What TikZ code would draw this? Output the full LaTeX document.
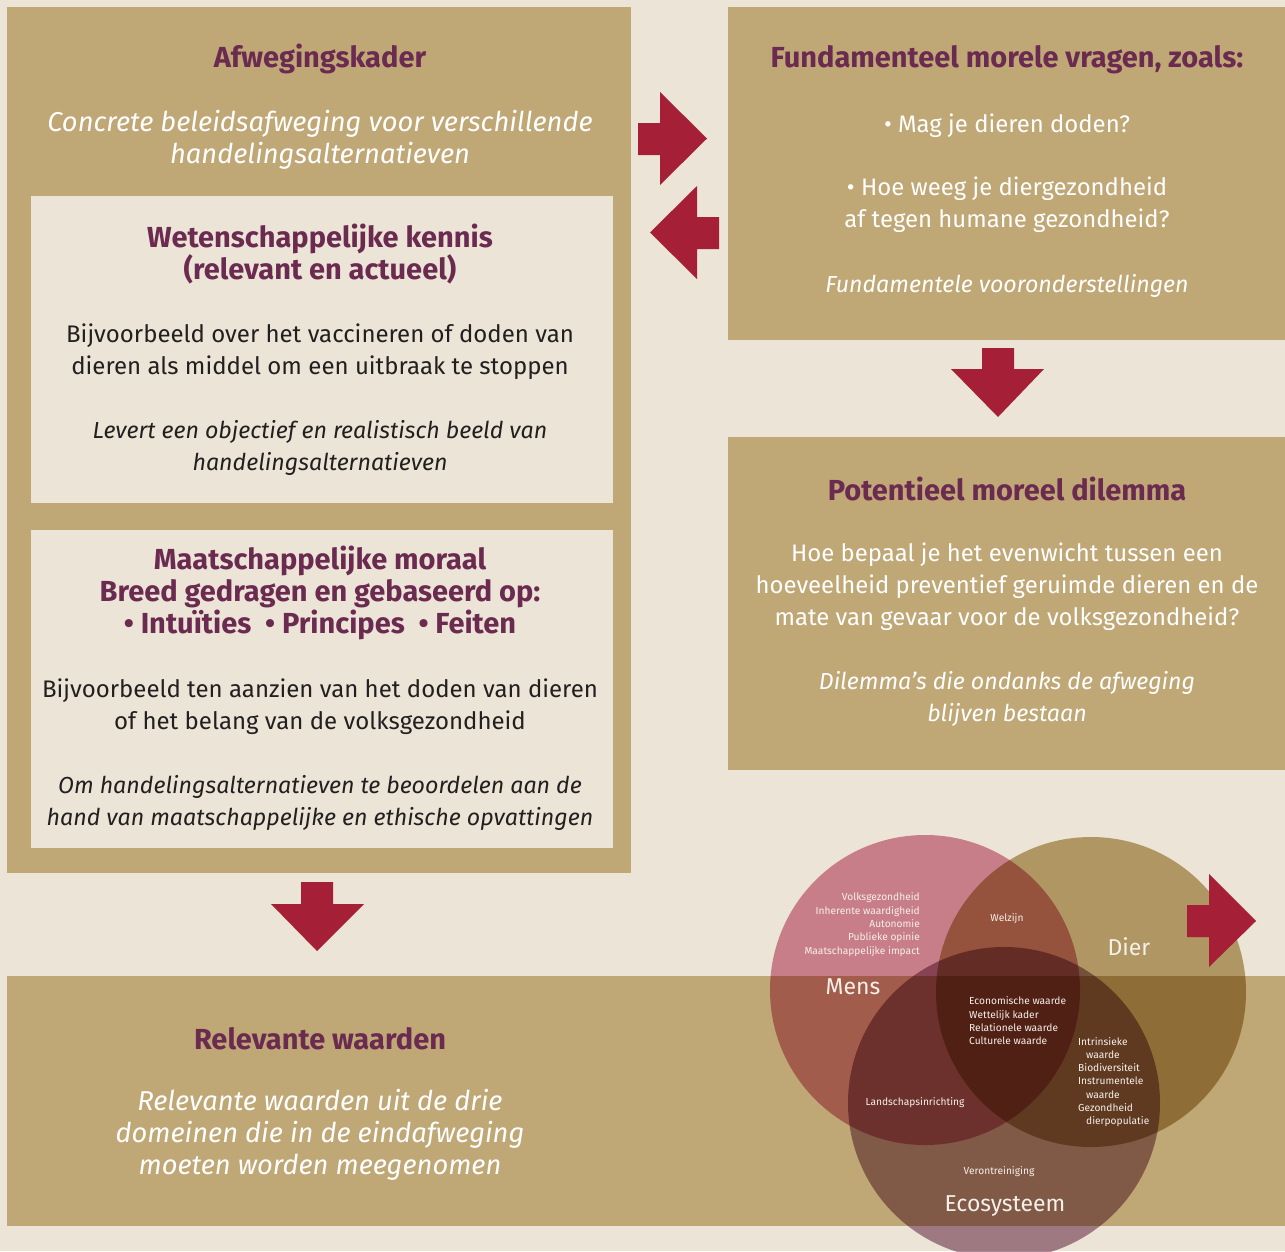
\documentclass[tikz,border=0pt]{standalone}
\usepackage{fontspec}
\setmainfont{Fira Sans}
\definecolor{bgc}{HTML}{ECE4D6}
\definecolor{goldc}{HTML}{BFA776}
\definecolor{redc}{HTML}{A51F37}
\definecolor{purpc}{HTML}{6B2A50}
\definecolor{darkt}{HTML}{231F20}
\definecolor{mensc}{HTML}{D98EA4}
\definecolor{dierc}{HTML}{BEA875}
\definecolor{ecoc}{HTML}{AB889B}
\definecolor{vennt}{HTML}{F6F0EA}
\tikzset{
  basetxt/.style={inner sep=0pt, yshift=-2pt},
  titletxt/.style={basetxt, font=\bfseries\fontsize{29}{32}\selectfont, text=purpc, align=center},
  bodytxt/.style={basetxt, font=\fontsize{24}{32}\selectfont, text=darkt, align=center},
  bodyit/.style={basetxt, font=\itshape\fontsize{23.2}{32}\selectfont, text=darkt, align=center},
  whitetxt/.style={basetxt, font=\fontsize{23.9}{32}\selectfont, text=white, align=center},
  whiteit/.style={basetxt, font=\itshape\fontsize{23.2}{32}\selectfont, text=white, align=center},
  bigit/.style={basetxt, font=\itshape\fontsize{27.3}{32}\selectfont, text=white, align=center},
  smalltxt/.style={basetxt, font=\fontsize{10.2}{13.3}\selectfont, text=vennt},
  domtxt/.style={basetxt, font=\fontsize{23}{26}\selectfont, text=vennt},
  blockarrow/.style={fill=redc},
}
\begin{document}
\begin{tikzpicture}[x=1pt,y=-1pt]
\useasboundingbox (0,0) rectangle (1285,1251);
\fill[bgc] (0,0) rectangle (1285,1251);

% boxes
\fill[goldc] (7,7) rectangle (631,873);
\fill[bgc] (31,196) rectangle (613,503);
\fill[bgc] (31,530) rectangle (613,848);
\fill[goldc] (728,7) rectangle (1285,340);
\fill[goldc] (728,437) rectangle (1285,770);
\fill[goldc] (7,976) rectangle (1285,1226);

% left box texts
\node[titletxt] (afw) at (320,57) {Afwegingskader};
\node[bigit] (afwsub) at (320,138) {Concrete beleidsafweging voor verschillende\\handelingsalternatieven};
\node[titletxt] (wet) at (320,252) {Wetenschappelijke kennis\\(relevant en actueel)};
\node[bodytxt] (wetb) at (320,350) {Bijvoorbeeld over het vaccineren of doden van\\dieren als middel om een uitbraak te stoppen};
\node[bodyit] (wetc) at (320,446) {Levert een objectief en realistisch beeld van\\handelingsalternatieven};
\node[titletxt] (maat) at (320,591) {Maatschappelijke moraal\\Breed gedragen en gebaseerd op:\\• Intuïties~~• Principes~~• Feiten};
\node[bodytxt] (maatb) at (320,705) {Bijvoorbeeld ten aanzien van het doden van dieren\\of het belang van de volksgezondheid};
\node[bodyit] (maatc) at (320,801) {Om handelingsalternatieven te beoordelen aan de\\hand van maatschappelijke en ethische opvattingen};

% right top box
\node[titletxt] (fund) at (1007,58) {Fundamenteel morele vragen, zoals:};
\node[whitetxt] (q1) at (1007,124) {• Mag je dieren doden?};
\node[whitetxt] (q2) at (1007,203) {• Hoe weeg je diergezondheid\\af tegen humane gezondheid?};
\node[whiteit] (fundc) at (1007,284) {Fundamentele vooronderstellingen};

% right middle box
\node[titletxt] (pot) at (1007,487) {Potentieel moreel dilemma};
\node[whitetxt] (potb) at (1007,585) {Hoe bepaal je het evenwicht tussen een\\hoeveelheid preventief geruimde dieren en de\\mate van gevaar voor de volksgezondheid?};
\node[whiteit] (potc) at (1007,697) {Dilemma’s die ondanks de afweging\\blijven bestaan};

% bottom band
\node[titletxt] (rel) at (320,1037) {Relevante waarden};
\node[bigit] (relb) at (320,1133) {Relevante waarden uit de drie\\domeinen die in de eindafweging\\moeten worden meegenomen};

% block arrows
\fill[blockarrow] (638,123) -- (660,123) -- (660,92) -- (707,138.5) -- (660,185) -- (660,155) -- (638,155) -- cycle;
\fill[blockarrow] (719,217) -- (697,217) -- (697,186) -- (650,232.5) -- (697,279) -- (697,249) -- (719,249) -- cycle;
\fill[blockarrow] (982,348) -- (1014,348) -- (1014,369) -- (1044,369) -- (998,417) -- (951,369) -- (982,369) -- cycle;
\fill[blockarrow] (301,882) -- (333,882) -- (333,904) -- (364,904) -- (317,951) -- (271,904) -- (301,904) -- cycle;

% Venn
\begin{scope}[blend mode=multiply]
\fill[mensc] (925,990) circle (155);
\fill[dierc] (1091,992) circle (155);
\fill[ecoc] (1004,1103) circle (156);
\end{scope}

\fill[blockarrow] (1187,905) -- (1209,905) -- (1209,874) -- (1256,921) -- (1209,967) -- (1209,937) -- (1187,937) -- cycle;

\node[smalltxt, align=right, anchor=east] (menslist) at (920,922.5) {Volksgezondheid\\Inherente waardigheid\\Autonomie\\Publieke opinie\\Maatschappelijke impact};
\node[smalltxt] (welzijn) at (1007,917) {Welzijn};
\node[domtxt] (dier) at (1129,945) {Dier};
\node[domtxt] (mens) at (853,985) {Mens};
\node[smalltxt, align=left, anchor=west] (midlist) at (969,1019) {Economische waarde\\Wettelijk kader\\Relationele waarde\\Culturele waarde};
\node[smalltxt, align=left, anchor=west] (dierlist) at (1078,1080) {Intrinsieke\\\hspace*{8pt}waarde\\Biodiversiteit\\Instrumentele\\\hspace*{8pt}waarde\\Gezondheid\\\hspace*{8pt}dierpopulatie};
\node[smalltxt] (land) at (915,1101) {Landschapsinrichting};
\node[smalltxt] (veron) at (999,1170) {Verontreiniging};
\node[domtxt] (eco) at (1005,1204) {Ecosysteem};
\end{tikzpicture}
\end{document}
